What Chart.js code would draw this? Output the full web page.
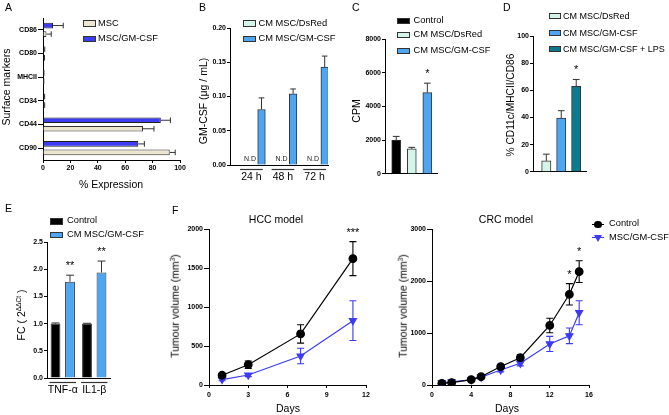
<!DOCTYPE html>
<html><head><meta charset="utf-8">
<script src="https://cdn.jsdelivr.net/npm/chart.js@4.4.1/dist/chart.umd.min.js"></script>
<style>
html,body{margin:0;padding:0;background:#fff;}
#root{position:relative;width:669px;height:415px;overflow:hidden;background:#fff;font-family:"Liberation Sans",Arial,Helvetica,sans-serif;color:#000;}
.t{position:absolute;white-space:nowrap;line-height:1;}
.c{transform:translate(-50%,-50%);}
.l{transform:translate(0,-50%);}
.r{transform:translate(-50%,-50%) rotate(-90deg);}
.box{position:absolute;box-sizing:border-box;border:1px solid #333;}
sup{font-size:0.62em;vertical-align:0.55em;line-height:0;}
</style>
</head><body><div id="root"></div>
<script>
// ---------- DATA ----------
// Panel A
const aCategories = ['CD86','CD80','MHCII','CD34','CD44','CD90'];
const aMSC      = [2.5, 0.5, 0.3, 0.6, 73, 92.5];
const aMSCErr   = [3.5, 0.6, 0.3, 0.6, 8, 4];
const aGM       = [7.3, 0.7, 0.4, 0.6, 86, 69.5];
const aGMErr    = [7.5, 0.6, 0.3, 0.6, 7, 4.5];
// Panel B
const bCategories = ['24 h','48 h','72 h'];
const bDsRed    = [0, 0, 0];
const bGM       = [0.081, 0.104, 0.143];
const bGMErr    = [0.017, 0.007, 0.016];
// Panel C
const cGroups   = ['Control','CM MSC/DsRed','CM MSC/GM-CSF'];
const cValues   = [2000, 1480, 4820];
const cErr      = [220, 90, 560];
// Panel D
const dGroups   = ['CM MSC/DsRed','CM MSC/GM-CSF','CM MSC/GM-CSF + LPS'];
const dValues   = [8, 39.5, 63];
const dErr      = [5, 5.5, 5];
// Panel E
const eCategories = ['TNF-\u03b1','IL1-\u03b2'];
const eControl  = [1.0, 1.0];
const eControlErr = [0.012, 0.006];
const eCM       = [1.77, 1.94];
const eCMErr    = [0.12, 0.21];
// Panel F - HCC
const hccDays   = [1, 3, 7, 11];
const hccControl = [125, 260, 655, 1620];
const hccControlErr = [25, 48, 118, 218];
const hccMSC    = [70, 128, 372, 825];
const hccMSCErr = [15, 20, 100, 255];
// Panel F - CRC
const crcDays   = [1, 2, 4, 5, 7, 9, 12, 14, 15];
const crcControl = [33, 45, 105, 160, 355, 525, 1145, 1744, 2180];
const crcControlErr = [15, 15, 25, 30, 40, 60, 140, 205, 210];
const crcMSC    = [45, 60, 100, 150, 288, 417, 790, 945, 1390];
const crcMSCErr = [40, 40, 30, 30, 35, 50, 145, 150, 230];

// ---------- HELPERS ----------
const FONT = '"Liberation Sans", Arial, Helvetica, sans-serif';
const root = document.getElementById('root');
const BLUE = '#4ea6f2', MINT = '#d3f5ea', TEAL = '#0b7a8e', BEIGE = '#ece6d0', ROYAL = '#3c3cf2', LBLUE = '#3b3bf5';

function txt(html, x, y, cls, size, extra) {
  const d = document.createElement('div');
  d.className = 't ' + cls;
  d.style.left = x + 'px'; d.style.top = y + 'px';
  d.style.fontSize = size + 'px';
  if (extra) d.style.cssText += extra;
  d.innerHTML = html;
  root.appendChild(d);
}
function legBox(x, yc, w, h, color, label, tx, size) {
  const b = document.createElement('div');
  b.className = 'box';
  b.style.cssText += `left:${x}px;top:${yc - h/2}px;width:${w}px;height:${h}px;background:${color};`;
  root.appendChild(b);
  txt(label, tx, yc, 'l', size || 9.3);
}
function axisY(min, max, step, fmt, tickLen) {
  return {
    min, max, ticks: {stepSize: step, color: '#000', font: {family: FONT, size: 7, weight: 'bold'}, padding: 1,
      callback: fmt || (v => v)},
    grid: {display: true, drawOnChartArea: false, drawTicks: true, tickLength: tickLen || 3, tickColor: '#000', color: '#000'},
    border: {display: true, color: '#000', width: 1}
  };
}
function mk(box, config, plugins) {
  const c = document.createElement('canvas');
  const left = Math.round(box.L - box.yW), top = Math.round(box.T - box.padT);
  const W = Math.round(box.R - box.L + box.yW + box.padR);
  const H = Math.round(box.B - box.T + box.padT + box.xH);
  c.width = W; c.height = H;
  c.style.cssText = `position:absolute;left:${left}px;top:${top}px;width:${W}px;height:${H}px;`;
  root.appendChild(c);
  config.options = Object.assign({
    responsive: false, maintainAspectRatio: false, animation: false, devicePixelRatio: 1,
  }, config.options);
  config.options.layout = {padding: {top: box.padT, right: box.padR, left: 0, bottom: 0}};
  config.options.plugins = Object.assign({legend: {display: false}, tooltip: {enabled: false}}, config.options.plugins || {});
  const sx = config.options.scales.x, sy = config.options.scales.y;
  sy.afterFit = s => { s.width = box.yW; };
  sx.afterFit = s => { s.height = box.xH; };
  config.plugins = plugins || [];
  return new Chart(c, config);
}
// error bars for bar charts (one-sided, outward) + significance stars
function barErr(errSets, capFrac, stars) {
  return {
    id: 'barErr',
    afterDatasetsDraw(chart) {
      const ctx = chart.ctx; ctx.save();
      const horiz = chart.options.indexAxis === 'y';
      const vs = horiz ? chart.scales.x : chart.scales.y;
      const tops = {};
      errSets.forEach((errs, di) => {
        if (!errs) return;
        const meta = chart.getDatasetMeta(di);
        meta.data.forEach((el, i) => {
          const e = errs[i]; if (e == null) return;
          const val = meta.controller.getParsed(i)[vs.axis];
          const p0 = vs.getPixelForValue(val), p1 = vs.getPixelForValue(val + e);
          tops[di + '_' + i] = {x: el.x, y: p1};
          const half = (horiz ? el.height : el.width) * capFrac / 2;
          ctx.strokeStyle = '#333'; ctx.lineWidth = 1;
          ctx.beginPath();
          if (horiz) { ctx.moveTo(p0, el.y); ctx.lineTo(p1, el.y); ctx.moveTo(p1, el.y - half); ctx.lineTo(p1, el.y + half); }
          else { ctx.moveTo(el.x, p0); ctx.lineTo(el.x, p1); ctx.moveTo(el.x - half, p1); ctx.lineTo(el.x + half, p1); }
          ctx.stroke();
        });
      });
      (stars || []).forEach(s => {
        const t = tops[s.di + '_' + s.i]; if (!t) return;
        ctx.fillStyle = '#000'; ctx.font = `11px ${FONT}`; ctx.textAlign = 'center'; ctx.textBaseline = 'alphabetic';
        ctx.fillText(s.text, t.x, t.y - 6);
      });
      ctx.restore();
    }
  };
}
// underline beneath category labels
function underline(fn) {
  return {
    id: 'underline',
    afterDraw(chart) {
      const ctx = chart.ctx, xs = chart.scales.x; ctx.save();
      ctx.strokeStyle = '#333'; ctx.lineWidth = 1.2;
      fn(xs).forEach(([a, b]) => {
        const y = chart.chartArea.bottom + 4.5;
        ctx.beginPath(); ctx.moveTo(a, y); ctx.lineTo(b, y); ctx.stroke();
      });
      ctx.restore();
    }
  };
}
// symmetric error bars on line points + stars
function lineErr(errSets, stars) {
  return {
    id: 'lineErr',
    beforeDatasetsDraw(chart) {
      const ctx = chart.ctx, ys = chart.scales.y; ctx.save();
      errSets.forEach((errs, di) => {
        const meta = chart.getDatasetMeta(di), ds = chart.data.datasets[di];
        ctx.strokeStyle = ds.borderColor; ctx.lineWidth = 1.1;
        meta.data.forEach((el, i) => {
          const v = meta.controller.getParsed(i).y, e = errs[i];
          const a = ys.getPixelForValue(v + e), b = ys.getPixelForValue(v - e);
          ctx.beginPath();
          ctx.moveTo(el.x, a); ctx.lineTo(el.x, b);
          ctx.moveTo(el.x - 3.5, a); ctx.lineTo(el.x + 3.5, a);
          ctx.moveTo(el.x - 3.5, b); ctx.lineTo(el.x + 3.5, b);
          ctx.stroke();
        });
      });
      ctx.restore();
    },
    afterDatasetsDraw(chart) {
      const ctx = chart.ctx, ys = chart.scales.y; ctx.save();
      (stars || []).forEach(s => {
        const meta = chart.getDatasetMeta(s.di), el = meta.data[s.i];
        const v = meta.controller.getParsed(s.i).y;
        const top = ys.getPixelForValue(v + errSets[s.di][s.i]);
        ctx.fillStyle = '#000'; ctx.font = `11px ${FONT}`; ctx.textAlign = 'center';
        ctx.fillText(s.text, el.x, top - 6);
      });
      ctx.restore();
    }
  };
}

// ---------- PANEL A ----------
mk({L: 43, R: 180, T: 18, B: 160, yW: 43, xH: 24, padT: 6, padR: 12}, {
  type: 'bar',
  data: {labels: aCategories, datasets: [
    {label: 'MSC/GM-CSF', data: aGM, backgroundColor: ROYAL, borderColor: '#222', borderWidth: 1},
    {label: 'MSC', data: aMSC, backgroundColor: BEIGE, borderColor: '#333', borderWidth: 1}
  ]},
  options: {
    indexAxis: 'y', categoryPercentage: 0.72, barPercentage: 0.66,
    scales: {
      x: axisY(0, 100, 20, null, 3),
      y: {ticks: {color: '#000', font: {family: FONT, size: 7, weight: 'bold'}, padding: 1, autoSkip: false},
          grid: {display: true, offset: false, drawOnChartArea: false, drawTicks: true, tickLength: 5, tickColor: '#000'},
          border: {display: true, color: '#000', width: 1}}
    }
  }
}, [barErr([aGMErr, aMSCErr], 1.0)]);
txt('A', 5, 7, 'l', 10.5);
txt('Surface markers', 6, 87, 'r', 10.5);
txt('% Expression', 111, 184, 'c', 10.5);
legBox(83, 23.5, 13, 6.5, BEIGE, 'MSC', 98);
legBox(83, 39, 13, 6.5, ROYAL, 'MSC/GM-CSF', 98);

// ---------- PANEL B ----------
mk({L: 230, R: 328, T: 28.3, B: 165, yW: 36, xH: 22, padT: 6, padR: 12}, {
  type: 'bar',
  data: {datasets: [
    {label: 'CM MSC/DsRed', data: bDsRed.map((v, i) => ({x: i + 1, y: v})), backgroundColor: MINT, borderWidth: 0, barThickness: 7.6},
    {label: 'CM MSC/GM-CSF', data: bGM.map((v, i) => ({x: i + 1, y: v})), backgroundColor: BLUE, borderColor: '#333', borderWidth: 1, barThickness: 7.6}
  ]},
  options: {
    scales: {
      x: {type: 'linear', min: 0.123, max: 3.225, offset: false,
          afterBuildTicks: s => { s.ticks = bCategories.map((c, i) => ({value: i + 0.8})); },
          ticks: {color: '#000', font: {family: FONT, size: 10.5}, padding: 6, autoSkip: false, maxRotation: 0,
                  callback: (v, i) => bCategories[i]},
          grid: {display: false, drawTicks: false, offset: false},
          border: {display: true, color: '#000', width: 1}},
      y: axisY(0, 0.2, 0.05, v => v.toFixed(2), 3)
    }
  }
}, [barErr([null, bGMErr], 0.75), underline(xs => bCategories.map((c, i) => [xs.getPixelForValue(i + 0.8 - 0.36), xs.getPixelForValue(i + 0.8 + 0.36)])),
  {id: 'nd', afterDatasetsDraw(chart) {
    const ctx = chart.ctx; ctx.save(); ctx.fillStyle = '#222'; ctx.font = `7px ${FONT}`; ctx.textAlign = 'center'; ctx.textBaseline = 'alphabetic';
    chart.getDatasetMeta(0).data.forEach(el => ctx.fillText('N.D', el.x - 4, chart.chartArea.bottom - 4));
    ctx.restore();
  }}]);
txt('B', 199, 7, 'l', 10.5);
txt('GM-CSF (\u03bcg / mL)', 203, 101, 'r', 10.5);
legBox(243, 23.5, 13, 6.5, MINT, 'CM MSC/DsRed', 258.5);
legBox(243, 39, 13, 6.5, BLUE, 'CM MSC/GM-CSF', 258.5);

// ---------- PANEL C ----------
mk({L: 385, R: 437, T: 39, B: 175.3, yW: 34, xH: 4, padT: 8, padR: 6}, {
  type: 'bar',
  data: {datasets: [
    {label: 'CPM', data: cValues.map((v, i) => ({x: i + 1, y: v})), backgroundColor: ['#000', MINT, BLUE],
     borderColor: '#333', borderWidth: 1, barThickness: 9}
  ]},
  options: {
    scales: {
      x: {type: 'linear', min: 0.28, max: 3.62, offset: false, ticks: {display: false}, grid: {display: false, drawTicks: false},
          border: {display: true, color: '#000', width: 1}},
      y: axisY(0, 8000, 2000, null, 3)
    }
  }
}, [barErr([cErr], 0.75, [{di: 0, i: 2, text: '*'}])]);
txt('C', 352, 7, 'l', 10.5);
txt('CPM', 356, 111, 'r', 10.5);
legBox(397, 20.8, 13, 6.5, '#000', cGroups[0], 413.5);
legBox(397, 34.8, 13, 6.5, MINT, cGroups[1], 413.5);
legBox(397, 51, 13, 6.5, BLUE, cGroups[2], 413.5);

// ---------- PANEL D ----------
mk({L: 533, R: 586, T: 36, B: 173.3, yW: 34, xH: 4, padT: 8, padR: 6}, {
  type: 'bar',
  data: {datasets: [
    {label: '%', data: dValues.map((v, i) => ({x: i + 1, y: v})), backgroundColor: [MINT, BLUE, TEAL],
     borderColor: '#333', borderWidth: 1, barThickness: 9.3}
  ]},
  options: {
    scales: {
      x: {type: 'linear', min: 0.11, max: 3.655, offset: false, ticks: {display: false}, grid: {display: false, drawTicks: false},
          border: {display: true, color: '#000', width: 1}},
      y: axisY(0, 100, 20, null, 3)
    }
  }
}, [barErr([dErr], 0.72, [{di: 0, i: 2, text: '*'}])]);
txt('D', 503, 7, 'l', 10.5);
txt('% CD11c/MHCII/CD86', 510.5, 105, 'r', 10.2);
legBox(548.5, 16, 12, 6, MINT, dGroups[0], 563, 9);
legBox(548.5, 32.5, 12, 6, BLUE, dGroups[1], 563, 9);
legBox(548.5, 49, 12, 6, TEAL, dGroups[2], 563, 9);

// ---------- PANEL E ----------
mk({L: 46.7, R: 110, T: 241.7, B: 377.7, yW: 34, xH: 22, padT: 6, padR: 12}, {
  type: 'bar',
  data: {labels: eCategories, datasets: [
    {label: 'Control', data: eControl, backgroundColor: '#000', borderColor: '#333', borderWidth: 1},
    {label: 'CM MSC/GM-CSF', data: eCM, backgroundColor: BLUE, borderColor: '#333', borderWidth: 1}
  ]},
  options: {
    categoryPercentage: 0.92, barPercentage: 0.68,
    scales: {
      x: {ticks: {color: '#000', font: {family: FONT, size: 10.5}, padding: 6, maxRotation: 0, minRotation: 0, autoSkip: false},
          grid: {display: false, drawTicks: false},
          border: {display: true, color: '#000', width: 1}},
      y: axisY(0, 2.5, 0.5, v => v.toFixed(1), 3)
    }
  }
}, [barErr([eControlErr, eCMErr], 0.8, [{di: 1, i: 0, text: '**'}, {di: 1, i: 1, text: '**'}]),
  underline(xs => eCategories.map((c, i) => { const p = xs.getPixelForValue(i), w = (xs.right - xs.left) / eCategories.length * 0.42; return [p - w, p + w]; }))]);
txt('E', 5, 208, 'l', 10.5);
txt('FC ( 2<sup>\u0394\u0394Ct</sup> )', 21, 315, 'r', 10.5);
legBox(50, 221.3, 13, 6.5, '#000', 'Control', 67);
legBox(50, 235, 13, 6.5, BLUE, 'CM MSC/GM-CSF', 67);

// ---------- PANEL F ----------
function lineCfg(days, ctrl, msc, xMax, xStep, yMax, yStep) {
  return {
    type: 'line',
    data: {datasets: [
      {label: 'Control', data: days.map((d, i) => ({x: d, y: ctrl[i]})), borderColor: '#000', backgroundColor: '#000',
       borderWidth: 1.2, pointStyle: 'circle', pointRadius: 3.8, tension: 0},
      {label: 'MSC/GM-CSF', data: days.map((d, i) => ({x: d, y: msc[i]})), borderColor: LBLUE, backgroundColor: LBLUE,
       borderWidth: 1.2, pointStyle: 'triangle', pointRotation: 180, pointRadius: 4, tension: 0}
    ]},
    options: {
      scales: {
        x: Object.assign(axisY(0, xMax, xStep, null, 3), {type: 'linear'}),
        y: axisY(0, yMax, yStep, null, 5)
      }
    }
  };
}
const hcc = lineCfg(hccDays, hccControl, hccMSC, 12, 3, 2000, 500);
hcc.options.scales.x.ticks.padding = 3;
mk({L: 209.3, R: 366.7, T: 229, B: 385, yW: 34, xH: 18, padT: 8, padR: 12}, hcc,
  [lineErr([hccControlErr, hccMSCErr], [{di: 0, i: 3, text: '***'}])]);
const crc = lineCfg(crcDays, crcControl, crcMSC, 16, 4, 3000, 1000);
crc.options.scales.x.ticks.padding = 3;
mk({L: 432.3, R: 589.3, T: 229, B: 385, yW: 34, xH: 18, padT: 8, padR: 12}, crc,
  [lineErr([crcControlErr, crcMSCErr], [{di: 0, i: 7, text: '*'}, {di: 0, i: 8, text: '*'}])]);
txt('F', 172, 210, 'l', 10.5);
txt('HCC model', 276, 218.5, 'c', 10.5);
txt('CRC model', 506, 218.5, 'c', 10.5);
txt('Tumour volume (mm<sup>3</sup>)', 175, 306, 'r', 10.5);
txt('Tumour volume (mm<sup>3</sup>)', 403, 306, 'r', 10.5);
txt('Days', 288, 408, 'c', 10.5);
txt('Days', 507, 408, 'c', 10.5);
// F legend
(function () {
  const items = [{y: 224.3, color: '#000', label: 'Control', shape: 'circle'}, {y: 237.7, color: LBLUE, label: 'MSC/GM-CSF', shape: 'tri'}];
  items.forEach(it => {
    const ln = document.createElement('div');
    ln.style.cssText = `position:absolute;left:592px;top:${it.y - 0.6}px;width:12px;height:1.2px;background:${it.color};`;
    root.appendChild(ln);
    const m = document.createElement('div');
    if (it.shape === 'circle') m.style.cssText = `position:absolute;left:594.3px;top:${it.y - 3.7}px;width:7.4px;height:7.4px;border-radius:50%;background:${it.color};`;
    else m.style.cssText = `position:absolute;left:594px;top:${it.y - 3}px;width:0;height:0;border-left:4px solid transparent;border-right:4px solid transparent;border-top:7px solid ${it.color};`;
    root.appendChild(m);
    txt(it.label, 609, it.y, 'l', 9.3);
  });
})();
</script>
</body></html>
